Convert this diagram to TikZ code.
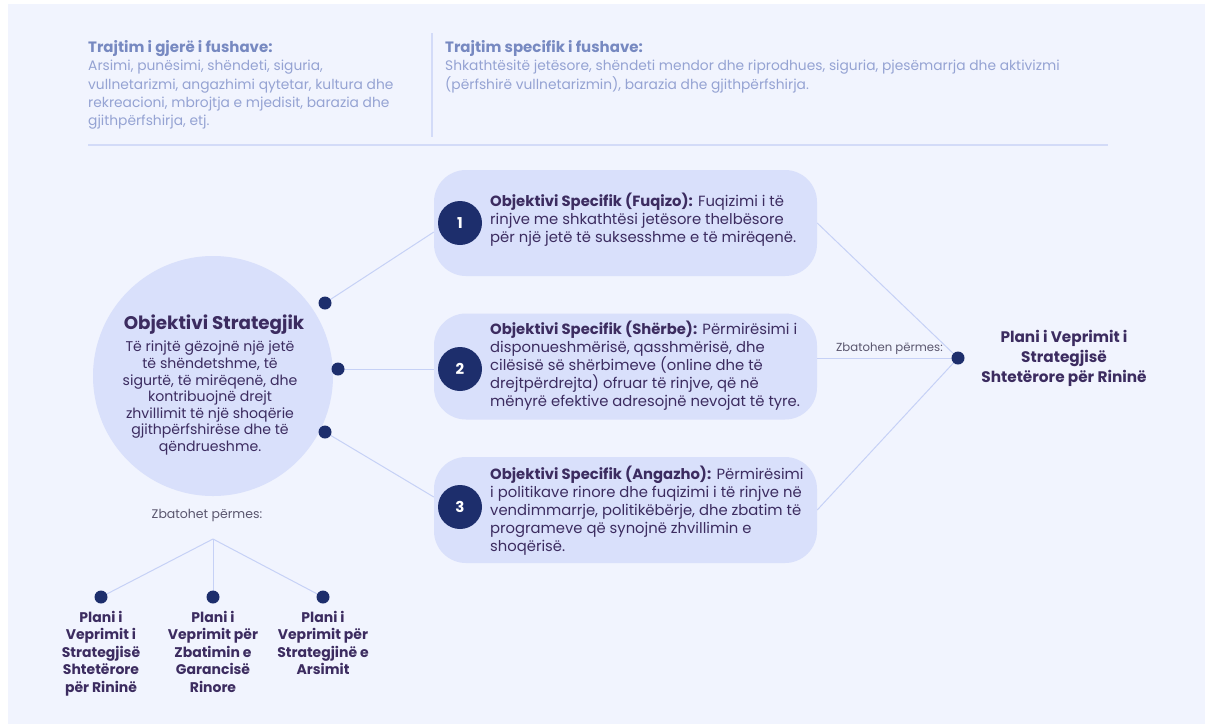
\documentclass[tikz,border=0pt]{standalone}
\usepackage{fontspec}
\setmainfont{Poppins}
\definecolor{panel}{HTML}{F1F4FE}
\definecolor{hdrtitle}{HTML}{7789C1}
\definecolor{hdrbody}{HTML}{95A3D3}
\definecolor{rule}{HTML}{D3DBF8}
\definecolor{shapefill}{HTML}{D9E0FB}
\definecolor{navy}{HTML}{1D2E6C}
\definecolor{ink}{HTML}{3C2C60}
\definecolor{conn}{HTML}{C6D1F6}
\definecolor{labelgray}{HTML}{5A566E}
\pgfdeclarelayer{bg}
\pgfsetlayers{bg,main}
\tikzset{
  hdr/.style={anchor=north west, inner sep=0pt, align=left, text=hdrbody, font=\fontsize{13.8}{18.4}\selectfont},
  bigcircle/.style={circle, fill=shapefill, minimum size=240pt, inner sep=0pt},
  objbox/.style={rectangle, rounded corners=32pt, fill=shapefill, minimum width=383pt, minimum height=106pt, inner sep=0pt},
  badge/.style={circle, fill=navy, minimum size=44pt, inner sep=0pt, text=white, font=\bfseries\fontsize{15}{18}\selectfont},
  dot/.style={circle, fill=navy, minimum size=13pt, inner sep=0pt},
  boxtext/.style={anchor=west, inner sep=0pt, align=left, text=ink, font=\fontsize{14.8}{18}\selectfont},
  plantext/.style={anchor=north, inner sep=0pt, align=center, text=ink, font=\bfseries\fontsize{14}{17.5}\selectfont},
  connector/.style={draw=conn, line width=1pt},
  rulestyle/.style={draw=rule, line width=1.2pt}
}
\begin{document}
\begin{tikzpicture}[x=1pt,y=-1pt]
\useasboundingbox (0,0) rectangle (1205,724);
\begin{pgfonlayer}{bg}
\fill[panel] (8,4) rectangle (1205,724);
\end{pgfonlayer}

% header
\node[hdr] (hdrL) at (88,40) {{\bfseries\color{hdrtitle}\fontsize{15}{18.4}\selectfont Trajtim i gjerë i fushave:}\\
Arsimi, punësimi, shëndeti, siguria,\\
vullnetarizmi, angazhimi qytetar, kultura dhe\\
rekreacioni, mbrojtja e mjedisit, barazia dhe\\
gjithpërfshirja, etj.};
\node[hdr] (hdrR) at (445,40) {{\bfseries\color{hdrtitle}\fontsize{15}{18.4}\selectfont Trajtim specifik i fushave:}\\
Shkathtësitë jetësore, shëndeti mendor dhe riprodhues, siguria, pjesëmarrja dhe aktivizmi\\
(përfshirë vullnetarizmin), barazia dhe gjithpërfshirja.};
\coordinate (sepTop) at (432,33);
\coordinate (sepBot) at (432,137);
\coordinate (ruleL) at (88,145);
\coordinate (ruleR) at (1108,145);
\draw[rulestyle] (sepTop) -- (sepBot);
\draw[rulestyle] (ruleL) -- (ruleR);

% strategic objective
\node[bigcircle] (strat) at (213,376) {};
\node[anchor=center, inner sep=0pt, text=ink, font=\bfseries\fontsize{18.3}{22}\selectfont] (stratTitle) at (214,325) {Objektivi Strategjik};
\node[anchor=north, inner sep=0pt, align=center, text=ink, font=\fontsize{14.1}{16.6}\selectfont] (stratBody) at (210,341) {Të rinjtë gëzojnë një jetë\\
të shëndetshme, të\\
sigurtë, të mirëqenë, dhe\\
kontribuojnë drejt\\
zhvillimit të një shoqërie\\
gjithpërfshirëse dhe të\\
qëndrueshme.};

% specific objectives
\node[objbox] (box1) at (625.5,223) {};
\node[objbox] (box2) at (625.5,366.5) {};
\node[objbox] (box3) at (625.5,510) {};
\node[badge] (b1) at (460,223) {1};
\node[badge] (b2) at (460,369) {2};
\node[badge] (b3) at (460,507) {3};
\node[boxtext] (t1) at (490,220) {\textbf{Objektivi Specifik (Fuqizo):} Fuqizimi i të\\
rinjve me shkathtësi jetësore thelbësore\\
për një jetë të suksesshme e të mirëqenë.};
\node[boxtext] (t2) at (490,366) {\textbf{Objektivi Specifik (Shërbe):} Përmirësimi i\\
disponueshmërisë, qasshmërisë, dhe\\
cilësisë së shërbimeve (online dhe të\\
drejtpërdrejta) ofruar të rinjve, që në\\
mënyrë efektive adresojnë nevojat të tyre.};
\node[boxtext] (t3) at (490,511) {\textbf{Objektivi Specifik (Angazho):} Përmirësimi\\
i politikave rinore dhe fuqizimi i të rinjve në\\
vendimmarrje, politikëbërje, dhe zbatim të\\
programeve që synojnë zhvillimin e\\
shoqërisë.};

% dots on circle
\node[dot] (d1) at (325,303) {};
\node[dot] (d2) at (338,369) {};
\node[dot] (d3) at (325,432) {};

% right side
\node[dot] (rdot) at (958,358) {};
\node[anchor=south east, inner sep=0pt, text=labelgray, font=\fontsize{11.7}{13}\selectfont] (zbatohen) at (943,355) {Zbatohen përmes:};
\node[anchor=center, inner sep=0pt, align=center, text=ink, font=\bfseries\fontsize{15.3}{20}\selectfont] (planR) at (1064,358) {Plani i Veprimit i\\
Strategjisë\\
Shtetërore për Rininë};

% bottom tree
\node[anchor=center, inner sep=0pt, text=labelgray, font=\fontsize{12.5}{16}\selectfont] (zbatohet) at (207,515) {Zbatohet përmes:};
\coordinate (apex) at (213,539);
\node[dot] (p1) at (101,597) {};
\node[dot] (p2) at (213,597) {};
\node[dot] (p3) at (323,597) {};
\node[plantext] (pt1) at (101,611) {Plani i\\ Veprimit i\\ Strategjisë\\ Shtetërore\\ për Rininë};
\node[plantext] (pt2) at (213,611) {Plani i\\ Veprimit për\\ Zbatimin e\\ Garancisë\\ Rinore};
\node[plantext] (pt3) at (323,611) {Plani i\\ Veprimit për\\ Strategjinë e\\ Arsimit};

% connectors
\begin{pgfonlayer}{bg}
\draw[connector] (d1.center) -- ([yshift=-9pt]box1.west);
\draw[connector] (d2.center) -- (d2.center -| box2.west);
\draw[connector] (d3.center) -- ([yshift=13pt]box3.west);
\draw[connector] (box1.east) -- (rdot.center);
\draw[connector] (rdot.center -| box2.east) -- (rdot.center);
\draw[connector] (box3.east) -- (rdot.center);
\draw[connector] (apex) -- (p1.center);
\draw[connector] (apex) -- (p2.center);
\draw[connector] (apex) -- (p3.center);
\end{pgfonlayer}
\end{tikzpicture}
\end{document}
